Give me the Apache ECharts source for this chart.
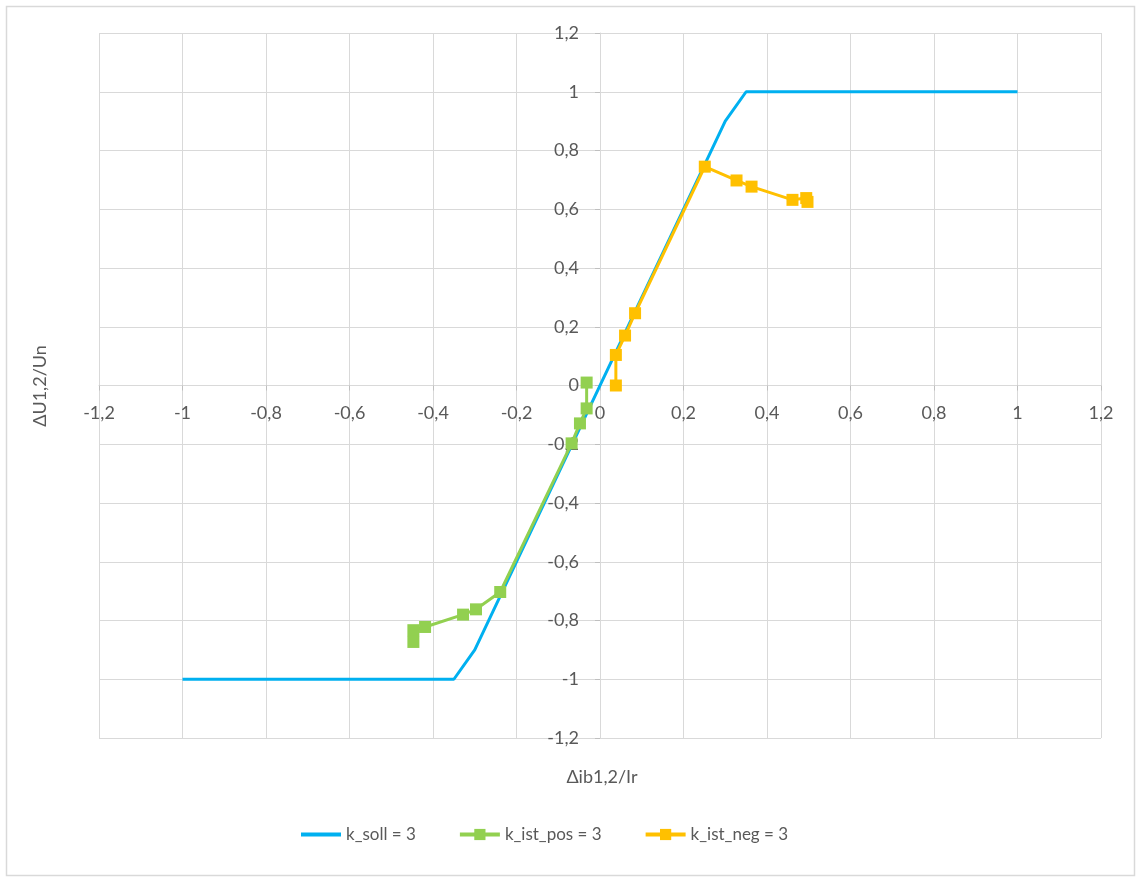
<!DOCTYPE html>
<html>
<head>
<meta charset="utf-8">
<script src="https://cdn.jsdelivr.net/npm/echarts@6/dist/echarts.min.js"></script>
<style>
  html, body { margin: 0; padding: 0; background: #fff; }
  #chart { width: 1141px; height: 882px; }
</style>
</head>
<body>
<div id="chart"></div>
<script>
// Target characteristic (k = 3)
const sollX = [-1, -0.35, -0.3, 0.3, 0.35, 1];
const sollY = [-1, -1, -0.9, 0.9, 1, 1];

// Measured, positive branch
const posX = [-0.032, -0.032, -0.048, -0.068, -0.239, -0.297, -0.328, -0.419, -0.447, -0.447];
const posY = [0.01, -0.078, -0.129, -0.197, -0.703, -0.762, -0.78, -0.822, -0.833, -0.873];

// Measured, negative branch
const negX = [0.038, 0.038, 0.06, 0.084, 0.251, 0.327, 0.363, 0.461, 0.494, 0.497];
const negY = [0.0, 0.104, 0.17, 0.246, 0.745, 0.698, 0.677, 0.632, 0.638, 0.625];

const seriesNames = ['k_soll = 3', 'k_ist_pos = 3', 'k_ist_neg = 3'];
const xTitle = 'Δib1,2/Ir';
const yTitle = 'ΔU1,2/Un';

const zip = (xs, ys) => xs.map((x, i) => [x, ys[i]]);
const fmt = v => String(Math.round(v * 10) / 10).replace('.', ',');

const W = 1141, H = 882;
const G = { left: 99, right: 40, top: 33, bottom: 144 };
const plotW = W - G.left - G.right;
const plotH = H - G.top - G.bottom;

const FONT = 'Lato, "Open Sans", sans-serif';
const TEXT = '#595959';
const GRID = '#d9d9d9';
const FS = 18;

const chart = echarts.init(document.getElementById('chart'), null, { renderer: 'canvas' });

const axisCommon = {
  type: 'value',
  min: -1.2,
  max: 1.2,
  interval: 0.2,
  axisLine: { onZero: false, lineStyle: { color: GRID, width: 1 } },
  axisTick: { show: true, length: 5, lineStyle: { color: '#bfbfbf' } },
  splitLine: { show: true, lineStyle: { color: GRID, width: 1 } },
  axisLabel: { color: TEXT, fontSize: FS, fontFamily: FONT, formatter: fmt }
};

chart.setOption({
  animation: false,
  backgroundColor: '#fff',
  grid: { left: G.left, right: G.right, top: G.top, bottom: G.bottom, containLabel: false },
  // both axes cross the plot centre (value 0 on the symmetric range)
  xAxis: Object.assign({}, axisCommon, {
    position: 'bottom',
    offset: -plotH / 2,
    axisLabel: Object.assign({}, axisCommon.axisLabel, { margin: 19 })
  }),
  yAxis: Object.assign({}, axisCommon, {
    position: 'left',
    offset: -plotW / 2,
    axisLabel: Object.assign({}, axisCommon.axisLabel, { margin: 21 })
  }),
  legend: {
    left: 294,
    top: 821,
    itemWidth: 40,
    itemHeight: 14,
    itemGap: 42,
    textStyle: { color: TEXT, fontSize: 17, fontFamily: FONT },
    lineStyle: { width: 4 },
    data: [
      { name: seriesNames[0], itemStyle: { opacity: 0 } },
      { name: seriesNames[1] },
      { name: seriesNames[2] }
    ]
  },
  graphic: [
    {
      type: 'rect',
      shape: { x: 6.5, y: 6.5, width: 1128, height: 869 },
      style: { fill: 'none', stroke: GRID, lineWidth: 1.5 },
      silent: true
    },
    {
      type: 'text',
      x: 40, y: 386,
      rotation: Math.PI / 2,
      style: { text: yTitle, fill: TEXT, fontSize: FS, fontFamily: FONT, align: 'center', verticalAlign: 'middle' }
    },
    {
      type: 'text',
      x: 602, y: 777,
      style: { text: xTitle, fill: TEXT, fontSize: FS, fontFamily: FONT, align: 'center', verticalAlign: 'middle' }
    }
  ],
  series: [
    {
      name: seriesNames[0],
      type: 'line',
      data: zip(sollX, sollY),
      symbol: 'none',
      lineStyle: { color: '#00B0F0', width: 3 },
      itemStyle: { color: '#00B0F0' }
    },
    {
      name: seriesNames[1],
      type: 'line',
      data: zip(posX, posY),
      symbol: 'rect',
      symbolSize: 12,
      lineStyle: { color: '#92D050', width: 3 },
      itemStyle: { color: '#92D050' }
    },
    {
      name: seriesNames[2],
      type: 'line',
      data: zip(negX, negY),
      symbol: 'rect',
      symbolSize: 12,
      lineStyle: { color: '#FFC000', width: 3 },
      itemStyle: { color: '#FFC000' }
    }
  ]
});
</script>
</body>
</html>
